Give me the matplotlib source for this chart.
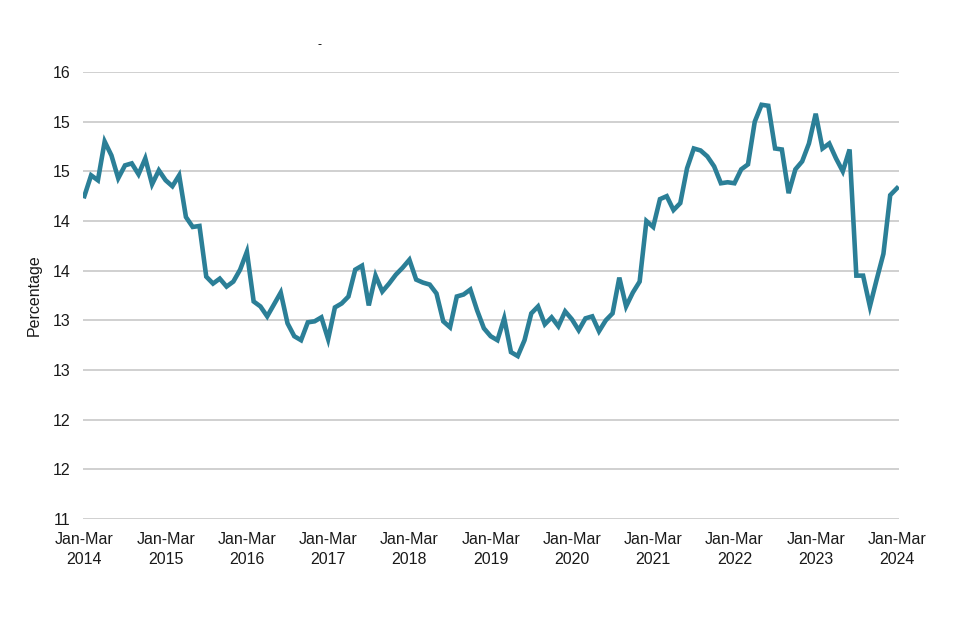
import matplotlib.pyplot as plt

plt.rcParams["font.family"] = ["Liberation Sans", "DejaVu Sans"]

# rolling quarterly values, Jan-Mar 2014 .. Jan-Mar 2024 (monthly steps)
values = [
    14.25, 14.46, 14.41, 14.80, 14.66, 14.43, 14.56, 14.58, 14.47, 14.63, 14.37, 14.51,
    14.41, 14.35, 14.46, 14.04, 13.94, 13.95, 13.44, 13.37, 13.42, 13.34, 13.39, 13.51,
    13.69, 13.19, 13.14, 13.04, 13.16, 13.28, 12.97, 12.84, 12.80, 12.98, 12.99, 13.03,
    12.81, 13.13, 13.17, 13.24, 13.51, 13.55, 13.15, 13.45, 13.29, 13.37, 13.46, 13.53,
    13.61, 13.41, 13.38, 13.36, 13.27, 12.99, 12.93, 13.24, 13.26, 13.31, 13.10, 12.92,
    12.84, 12.80, 13.02, 12.68, 12.64, 12.80, 13.07, 13.14, 12.96, 13.03, 12.94, 13.09,
    13.01, 12.90, 13.02, 13.04, 12.89, 13.00, 13.07, 13.43, 13.14, 13.28, 13.39, 14.00,
    13.94, 14.22, 14.25, 14.11, 14.18, 14.53, 14.73, 14.71, 14.65, 14.55, 14.38, 14.39,
    14.38, 14.52, 14.57, 15.00, 15.17, 15.16, 14.73, 14.72, 14.28, 14.52, 14.60, 14.78,
    15.08, 14.73, 14.78, 14.63, 14.50, 14.72, 13.45, 13.45, 13.14, 13.41, 13.67, 14.26,
    14.33,
]
years = list(range(2014, 2025))
xtick_labels = [f"Jan-Mar\n{y}" for y in years]
ytick_values = [11.0, 11.5, 12.0, 12.5, 13.0, 13.5, 14.0, 14.5, 15.0, 15.5]
ytick_labels = ["11", "12", "12", "13", "13", "14", "14", "15", "15", "16"]

fig = plt.figure(figsize=(9.6, 6.4), dpi=100)
ax = fig.add_axes([83 / 960, 1 - 519 / 640, (899 - 83) / 960, (519 - 72) / 640])

x = list(range(len(values)))
ax.plot(x, values, color="#2B7F97", linewidth=3.3, solid_joinstyle="miter", zorder=3)

ax.set_xlim(-0.2, 120.3)
ax.set_ylim(11, 15.5)
ax.set_xticks([i * 12 for i in range(len(years))])
ax.set_xticklabels(xtick_labels, fontsize=11.5, color="#1a1a1a", linespacing=1.45)
ax.set_yticks(ytick_values)
ax.set_yticklabels(ytick_labels, fontsize=11.5, color="#1a1a1a")
ax.tick_params(axis="both", length=0)
ax.tick_params(axis="x", pad=9)
ax.tick_params(axis="y", pad=9)
ax.grid(axis="y", color="#d0d0d0", linewidth=1.4)
ax.set_axisbelow(True)
for s in ax.spines.values():
    s.set_visible(False)

ax.set_ylabel("Percentage", fontsize=11.5, color="#1a1a1a", labelpad=8)
fig.text(320 / 960, 1 - 45 / 640, "-", fontsize=9, ha="center", va="center")

fig.savefig("out.png", dpi=100)
